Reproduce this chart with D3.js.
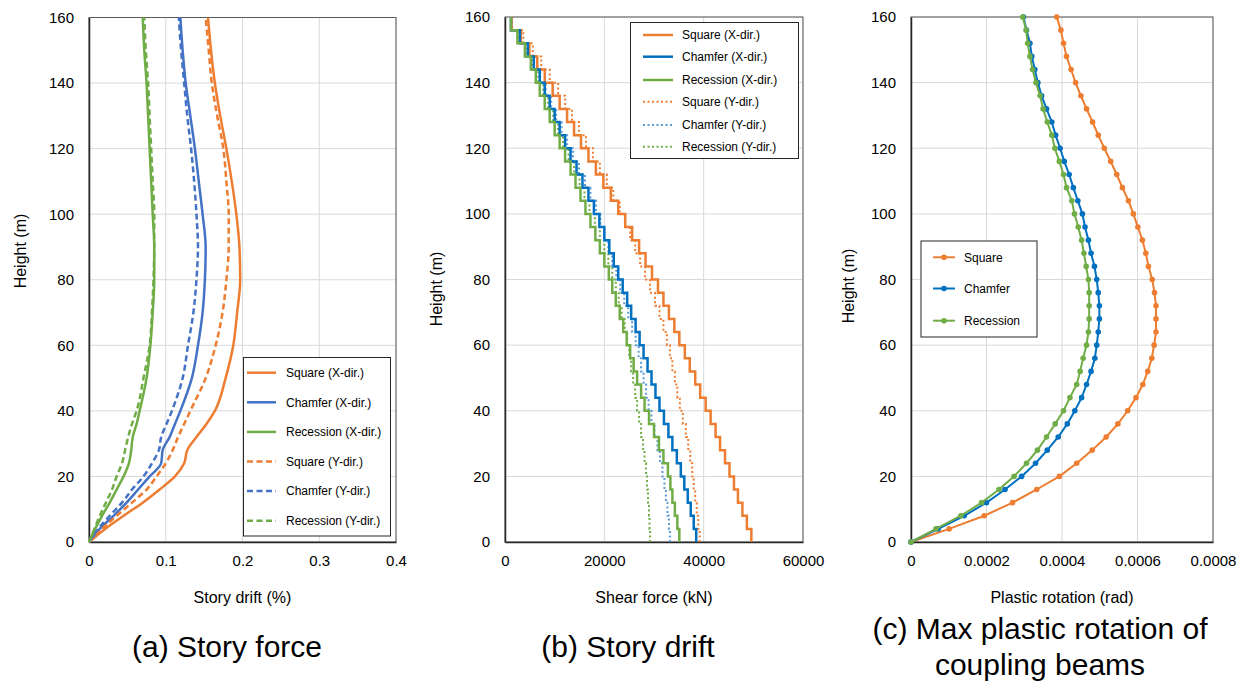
<!DOCTYPE html>
<html><head><meta charset="utf-8">
<script src="https://cdn.jsdelivr.net/npm/d3@7"></script>
<style>
body{margin:0;background:#fff;}
svg text{font-family:"Liberation Sans",Arial,sans-serif;fill:#000;}
</style></head>
<body><svg id="c" width="1250" height="682"></svg>
<script>
// ---------- DATA ----------
const heightTicks = [0,20,40,60,80,100,120,140,160];

// (a) story drift (%)
const heightsA = [0,4,8,12,16,20,24,28,32,36,40,50,60,70,80,90,100,110,120,130,140,150,160];
const driftSquareX    = [0,0.021,0.045,0.070,0.092,0.112,0.124,0.128,0.140,0.153,0.164,0.178,0.188,0.193,0.197,0.196,0.192,0.186,0.179,0.171,0.164,0.159,0.155];
const driftChamferX   = [0,0.014,0.032,0.049,0.064,0.079,0.094,0.096,0.105,0.112,0.119,0.134,0.142,0.148,0.151,0.152,0.148,0.143,0.138,0.132,0.126,0.122,0.119];
const driftRecessionX = [0,0.008,0.017,0.027,0.036,0.045,0.052,0.055,0.057,0.062,0.066,0.075,0.080,0.083,0.085,0.085,0.083,0.081,0.079,0.077,0.075,0.072,0.070];
const driftSquareY    = [0,0.017,0.036,0.056,0.075,0.088,0.100,0.109,0.116,0.124,0.132,0.152,0.165,0.174,0.179,0.182,0.182,0.179,0.175,0.167,0.160,0.156,0.152];
const driftChamferY   = [0,0.012,0.027,0.043,0.056,0.071,0.082,0.091,0.094,0.101,0.108,0.122,0.129,0.136,0.140,0.142,0.140,0.137,0.133,0.128,0.124,0.120,0.117];
const driftRecessionY = [0,0.007,0.014,0.022,0.030,0.036,0.043,0.047,0.051,0.056,0.062,0.071,0.079,0.082,0.084,0.085,0.085,0.083,0.081,0.079,0.077,0.074,0.072];
const driftTicks = [0,0.1,0.2,0.3,0.4];

// (b) story shear force (kN), one value per 4 m storey, bottom storey first
const storyHeight = 4;
const shearSquareX    = [49600,48700,47800,46900,46100,45200,44300,43300,42400,41400,40400,39300,38300,37200,36200,35100,34100,33000,31900,30800,29600,28300,27000,25600,24200,22800,21300,19800,18300,16800,15300,13900,12500,11000,9600,8000,6500,4900,3200,1300];
const shearChamferX   = [38500,38000,37400,36800,36100,35400,34600,33700,32900,32000,31100,30300,29500,28700,27900,27100,26300,25400,24600,23700,22800,21900,21000,20000,19000,17900,16800,15600,14400,13200,12100,11000,10000,9000,8000,7000,5800,4600,3000,1200];
const shearRecessionX = [35100,34700,34200,33700,33300,32800,31900,31000,30000,29000,28100,27400,26600,25900,25200,24500,23800,23100,22300,21600,20900,20000,19100,18200,17200,16200,15200,14200,13200,12100,11000,10000,9000,8000,7000,6200,5200,4000,2500,1200];
const shearSquareY    = [39200,38900,38600,38300,38000,37700,37300,36900,36400,35800,35200,34700,34200,33700,33200,32600,31900,31100,30200,29200,28200,27200,26200,25200,24200,23100,21800,20500,19100,17700,16300,14900,13500,12100,10700,9000,7300,5600,3700,1400];
const shearChamferY   = [33200,33000,32700,32400,32100,31700,31200,30700,30100,29500,28900,28400,27900,27400,26900,26300,25600,24800,24000,23200,22400,21600,20800,20000,19200,18300,17200,16100,14900,13700,12500,11400,10300,9300,8200,7100,5800,4500,3000,1200];
const shearRecessionY = [29200,29100,29000,28800,28600,28400,28100,27800,27400,27000,26600,26200,25800,25400,25000,24600,24100,23500,22900,22300,21600,20800,20000,19100,18100,17000,16000,15000,13900,12800,11700,10700,9700,8700,7700,6700,5500,4300,2800,1200];
const shearTicks = [0,20000,40000,60000];

// (c) max plastic rotation of coupling beams (rad), every 4 m from 0 to 160 m
const heightsC = d3.range(0,161,4);
const rotSquare    = [0,0.000101,0.000194,0.000269,0.000333,0.000393,0.000439,0.000480,0.000517,0.000548,0.000574,0.000596,0.000614,0.000627,0.000638,0.000644,0.000649,0.000649,0.000649,0.000645,0.000639,0.000629,0.000622,0.000613,0.000601,0.000589,0.000576,0.000560,0.000545,0.000529,0.000512,0.000496,0.000481,0.000465,0.000450,0.000436,0.000424,0.000412,0.000404,0.000397,0.000386];
const rotChamfer   = [0,0.000072,0.000141,0.000200,0.000249,0.000293,0.000330,0.000361,0.000390,0.000414,0.000434,0.000452,0.000465,0.000477,0.000487,0.000492,0.000496,0.000499,0.000499,0.000496,0.000492,0.000486,0.000477,0.000470,0.000461,0.000454,0.000442,0.000430,0.000419,0.000406,0.000395,0.000383,0.000373,0.000359,0.000346,0.000336,0.000328,0.000320,0.000315,0.000306,0.000298];
const rotRecession = [0,0.000066,0.000132,0.000187,0.000233,0.000273,0.000306,0.000335,0.000359,0.000382,0.000404,0.000421,0.000439,0.000448,0.000456,0.000465,0.000470,0.000472,0.000472,0.000472,0.000470,0.000464,0.000458,0.000452,0.000443,0.000433,0.000426,0.000412,0.000404,0.000393,0.000381,0.000373,0.000361,0.000350,0.000342,0.000331,0.000322,0.000315,0.000309,0.000305,0.000296];
const rotTicks = [0,0.0002,0.0004,0.0006,0.0008];

// ---------- DRAWING ----------
const svg = d3.select("#c");
const ORANGE="#ED7D31", BLUE_A="#4472C4", BLUE="#0070C0", LBLUE="#5B9BD5", GREEN="#70AD47";

function panel(o){
  const x = d3.scaleLinear().domain(o.xDomain).range([o.left,o.right]);
  const y = d3.scaleLinear().domain([0,160]).range([o.bottom,o.top]);
  const g = svg.append("g");
  g.selectAll(".gy").data(heightTicks).join("line")
    .attr("x1",o.left).attr("x2",o.right).attr("y1",d=>y(d)).attr("y2",d=>y(d))
    .attr("stroke","#D9D9D9").attr("stroke-width",1);
  g.selectAll(".gx").data(o.xTicks).join("line")
    .attr("x1",d=>x(d)).attr("x2",d=>x(d)).attr("y1",o.top).attr("y2",o.bottom)
    .attr("stroke","#D9D9D9").attr("stroke-width",1);
  g.append("rect").attr("x",o.left).attr("y",o.top).attr("width",o.right-o.left).attr("height",o.bottom-o.top)
    .attr("fill","none").attr("stroke","#595959").attr("stroke-width",1);
  const ya = g.append("g").attr("transform",`translate(${o.left},0)`)
    .call(d3.axisLeft(y).tickValues(heightTicks).tickSize(0).tickPadding(15));
  ya.select(".domain").attr("stroke","#262626").attr("stroke-width",1.5);
  ya.selectAll("text").attr("font-size",15).attr("font-family","Liberation Sans, Arial, sans-serif").attr("fill","#000");
  const xa = g.append("g").attr("transform",`translate(0,${o.bottom})`)
    .call(d3.axisBottom(x).tickValues(o.xTicks).tickSize(0).tickPadding(13).tickFormat(o.fmt));
  xa.select(".domain").attr("stroke","#262626").attr("stroke-width",1.5);
  xa.selectAll("text").attr("font-size",15).attr("font-family","Liberation Sans, Arial, sans-serif").attr("fill","#000");
  g.append("text").attr("transform",`translate(${o.ytx},${o.yty}) rotate(-90)`)
    .attr("text-anchor","middle").attr("dy","0.35em").attr("font-size",16).text("Height (m)");
  g.append("text").attr("x",(o.left+o.right)/2).attr("y",603).attr("text-anchor","middle")
    .attr("font-size",16).text(o.xTitle);
  o.caption.forEach((c,i)=>{
    g.append("text").attr("x",o.capX).attr("y",o.capY+i*36).attr("text-anchor","middle")
      .attr("font-size",30).text(c);
  });
  return {x,y,g};
}

// Panel (a)
(function(){
  const p = panel({left:89,right:396,top:17.5,bottom:542,xDomain:[0,0.4],xTicks:driftTicks,
    fmt:d=>d===0?"0":d3.format(".1f")(d),xTitle:"Story drift (%)",ytx:20,yty:251,
    caption:["(a) Story force"],capX:227,capY:657});
  const series=[
    {v:driftSquareX,c:ORANGE,d:null,n:"Square (X-dir.)"},
    {v:driftChamferX,c:BLUE_A,d:null,n:"Chamfer (X-dir.)"},
    {v:driftRecessionX,c:GREEN,d:null,n:"Recession (X-dir.)"},
    {v:driftSquareY,c:ORANGE,d:"6 3.5",n:"Square (Y-dir.)"},
    {v:driftChamferY,c:BLUE_A,d:"6 3.5",n:"Chamfer (Y-dir.)"},
    {v:driftRecessionY,c:GREEN,d:"6 3.5",n:"Recession (Y-dir.)"}];
  const line=d3.line().x(d=>p.x(d[0])).y(d=>p.y(d[1])).curve(d3.curveMonotoneY);
  series.forEach(s=>{
    p.g.append("path").datum(s.v.map((v,i)=>[v,heightsA[i]])).attr("d",line)
      .attr("fill","none").attr("stroke",s.c).attr("stroke-width",2.5).attr("stroke-dasharray",s.d);
  });
  const lg=p.g.append("g");
  lg.append("rect").attr("x",243.5).attr("y",357.5).attr("width",147).attr("height",178.5)
    .attr("fill","#fff").attr("stroke","#262626").attr("stroke-width",1);
  series.forEach((s,i)=>{
    const yy=372.7+i*29.6;
    lg.append("line").attr("x1",247).attr("x2",276).attr("y1",yy).attr("y2",yy)
      .attr("stroke",s.c).attr("stroke-width",2.5).attr("stroke-dasharray",s.d);
    lg.append("text").attr("x",286).attr("y",yy).attr("dy","0.35em").attr("font-size",12).text(s.n);
  });
})();

// Panel (b)
(function(){
  const p = panel({left:505,right:803,top:17,bottom:542,xDomain:[0,60000],xTicks:shearTicks,
    fmt:d3.format("d"),xTitle:"Shear force (kN)",ytx:436,yty:289,
    caption:["(b) Story drift"],capX:628,capY:657});
  const series=[
    {v:shearSquareX,c:ORANGE,d:null,n:"Square (X-dir.)"},
    {v:shearChamferX,c:BLUE,d:null,n:"Chamfer (X-dir.)"},
    {v:shearRecessionX,c:GREEN,d:null,n:"Recession (X-dir.)"},
    {v:shearSquareY,c:ORANGE,d:"2 2.5",n:"Square (Y-dir.)"},
    {v:shearChamferY,c:LBLUE,d:"2 2.5",n:"Chamfer (Y-dir.)"},
    {v:shearRecessionY,c:GREEN,d:"2 2.5",n:"Recession (Y-dir.)"}];
  const line=d3.line().x(d=>p.x(d[0])).y(d=>p.y(d[1]));
  const order=[3,4,5,0,1,2];
  order.forEach(k=>{
    const s=series[k];
    const pts=[];
    s.v.forEach((v,i)=>{pts.push([v,i*storyHeight]);pts.push([v,(i+1)*storyHeight]);});
    p.g.append("path").datum(pts).attr("d",line)
      .attr("fill","none").attr("stroke",s.c).attr("stroke-width",s.d?2:2.5)
      .attr("stroke-dasharray",s.d).attr("stroke-linejoin","miter");
  });
  const lg=p.g.append("g");
  lg.append("rect").attr("x",630.5).attr("y",22.5).attr("width",168).attr("height",136)
    .attr("fill","#fff").attr("stroke","#262626").attr("stroke-width",1);
  const ys=[35,56.7,80,101.7,125,146.7];
  series.forEach((s,i)=>{
    lg.append("line").attr("x1",643).attr("x2",673).attr("y1",ys[i]).attr("y2",ys[i])
      .attr("stroke",s.c).attr("stroke-width",s.d?2:2.5).attr("stroke-dasharray",s.d);
    lg.append("text").attr("x",682).attr("y",ys[i]).attr("dy","0.35em").attr("font-size",12).text(s.n);
  });
})();

// Panel (c)
(function(){
  const p = panel({left:911,right:1213,top:17,bottom:542,xDomain:[0,0.0008],xTicks:rotTicks,
    fmt:d=>d===0?"0":d3.format(".4f")(d),xTitle:"Plastic rotation (rad)",ytx:848,yty:286,
    caption:["(c) Max plastic rotation of","coupling beams"],capX:1040,capY:639});
  const series=[
    {v:rotSquare,c:ORANGE,n:"Square"},
    {v:rotChamfer,c:BLUE,n:"Chamfer"},
    {v:rotRecession,c:GREEN,n:"Recession"}];
  const line=d3.line().x(d=>p.x(d[0])).y(d=>p.y(d[1]));
  series.forEach(s=>{
    const pts=s.v.map((v,i)=>[v,heightsC[i]]);
    p.g.append("path").datum(pts).attr("d",line).attr("fill","none").attr("stroke",s.c).attr("stroke-width",2);
    p.g.selectAll(null).data(pts).join("circle").attr("cx",d=>p.x(d[0])).attr("cy",d=>p.y(d[1]))
      .attr("r",2.8).attr("fill",s.c);
  });
  const lg=p.g.append("g");
  lg.append("rect").attr("x",921).attr("y",241).attr("width",116).attr("height",96)
    .attr("fill","#fff").attr("stroke","#262626").attr("stroke-width",1);
  const ys=[257.3,288.5,320.7];
  series.forEach((s,i)=>{
    lg.append("line").attr("x1",933).attr("x2",955).attr("y1",ys[i]).attr("y2",ys[i])
      .attr("stroke",s.c).attr("stroke-width",2);
    lg.append("circle").attr("cx",944).attr("cy",ys[i]).attr("r",2.8).attr("fill",s.c);
    lg.append("text").attr("x",964).attr("y",ys[i]).attr("dy","0.35em").attr("font-size",12).text(s.n);
  });
})();
</script></body></html>
